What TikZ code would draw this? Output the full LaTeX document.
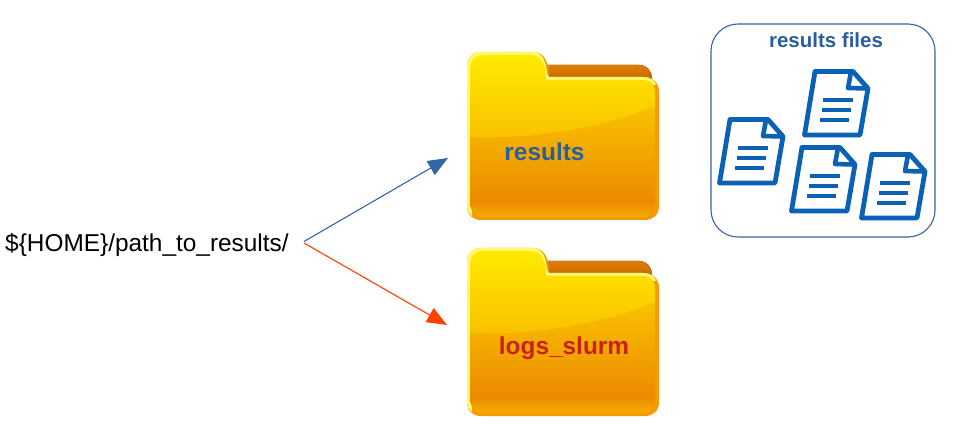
\documentclass[tikz,border=0pt]{standalone}
\usepackage{fontspec}
\setmainfont{Liberation Sans}
\usetikzlibrary{arrows.meta}
\definecolor{lineblue}{HTML}{3465A4}
\definecolor{lblblue}{HTML}{2A6099}
\definecolor{docblue}{HTML}{0B62B4}
\definecolor{lineorange}{HTML}{FF4000}
\definecolor{lblred}{HTML}{C9211E}
\definecolor{fedge}{HTML}{F59A00}
\definecolor{fback}{HTML}{DF7B00}
\definecolor{ftop}{HTML}{FFEC00}
\definecolor{fgloss}{HTML}{FABF00}
\definecolor{fmid}{HTML}{FCD000}
\definecolor{flow}{HTML}{EC8A00}
\definecolor{fband}{HTML}{F6B400}
\tikzset{
  lbl/.style={font=\bfseries\fontsize{24.4}{28}\selectfont,inner sep=0pt,anchor=base},
  conn/.style={line width=1.1pt,-{Triangle[length=20pt,width=16pt]},shorten >=0pt},
  filedoc/.pic={
    \draw[docblue,line width=4.8pt,line join=round,fill=white]
      (11,0.5) -- (49,0.5) -- (64,17.5) -- (56,64) -- (0.5,64) -- cycle;
    \draw[docblue,line width=4.6pt,line join=round] (47,1) -- (44,17) -- (63,17.5);
    \draw[docblue,line width=4.6pt] (19,29) -- (49,29) (18,39) -- (47,39) (16,49) -- (45,49);
  },
  folder/.pic={
    \fill[top color=fback!90!orange,bottom color=fback!85!black] (60,13) -- (172,13) .. controls (180,13) and (185,19) .. (185,27) -- (60,30) -- cycle;
    \fill[fedge] (0,14) .. controls (0,5) and (6,0) .. (14,0) -- (66,0) .. controls (76,0) and (82,8) .. (82,25)
      -- (176,25) .. controls (186,25) and (192,31) .. (192,40) -- (192,154) .. controls (192,163) and (186,168) .. (178,168)
      -- (14,168) .. controls (6,168) and (0,163) .. (0,154) -- cycle;
    \fill[yellow!55!white] (0,14) .. controls (0,5) and (6,0) .. (14,0) -- (66,0) .. controls (74,0) and (79,7) .. (80,22)
      -- (82,25) -- (176,25) .. controls (184,25) and (188,29) .. (189,33) -- (82,30) -- (5,30) -- (5,164) .. controls (2,162) and (0,158) .. (0,154) -- cycle;
    \begin{scope}
      \clip (3.5,15) .. controls (3.5,8) and (8,3) .. (15,3) -- (64,3) .. controls (74,3) and (79,12) .. (79,28)
        -- (176,28) .. controls (184,28) and (188,33) .. (188,41) -- (188,152) .. controls (188,159) and (184,165) .. (176,165)
        -- (15,165) .. controls (8,165) and (3.5,160) .. (3.5,152) -- cycle;
      \shade[top color=fmid,bottom color=flow] (0,30) rectangle (192,150);
      \begin{scope}
        \clip (0,0) -- (192,0) -- (192,52) .. controls (140,75) and (70,88) .. (0,85) -- cycle;
        \shade[top color=ftop,bottom color=fgloss] (0,0) rectangle (192,90);
      \end{scope}
      \shade[top color=flow,bottom color=fband] (0,149) rectangle (192,168);
    \end{scope}
  }
}
\begin{document}
\begin{tikzpicture}[x=1pt,y=-1pt]
\useasboundingbox (0,0) rectangle (953,443);
\fill[white] (0,0) rectangle (953,443);
\pic at (467,52) {folder};
\pic at (467,248) {folder};
\node[lbl,text=lblblue] (resultslabel) at (544.5,160.5) {results};
\node[lbl,text=lblred] (logslabel) at (564,354.5) {logs\_slurm};
\node[font=\fontsize{24.4}{28}\selectfont,inner sep=0pt,anchor=base west] (pathlabel) at (5,252) {\$\{HOME\}/path\_to\_results/};
\coordinate (src1) at (304,241.5);
\coordinate (src2) at (304,243);
\coordinate (dst1) at (448,158);
\coordinate (dst2) at (447,325);
\draw[conn,lineblue] (src1) -- (dst1);
\draw[conn,lineorange] (src2) -- (dst2);
\node[draw=lineblue,line width=1.1pt,rounded corners=27pt,minimum width=224pt,minimum height=213pt,inner sep=0pt] (filesbox) at (823,130.5) {};
\node[font=\bfseries\fontsize{20.5}{24}\selectfont,inner sep=0pt,anchor=base,text=lblblue] (fileslabel) at (826,47.5) {results files};
\pic at (804,71) {filedoc};
\pic at (719,119) {filedoc};
\pic at (791,147) {filedoc};
\pic at (861,154) {filedoc};
\end{tikzpicture}
\end{document}
